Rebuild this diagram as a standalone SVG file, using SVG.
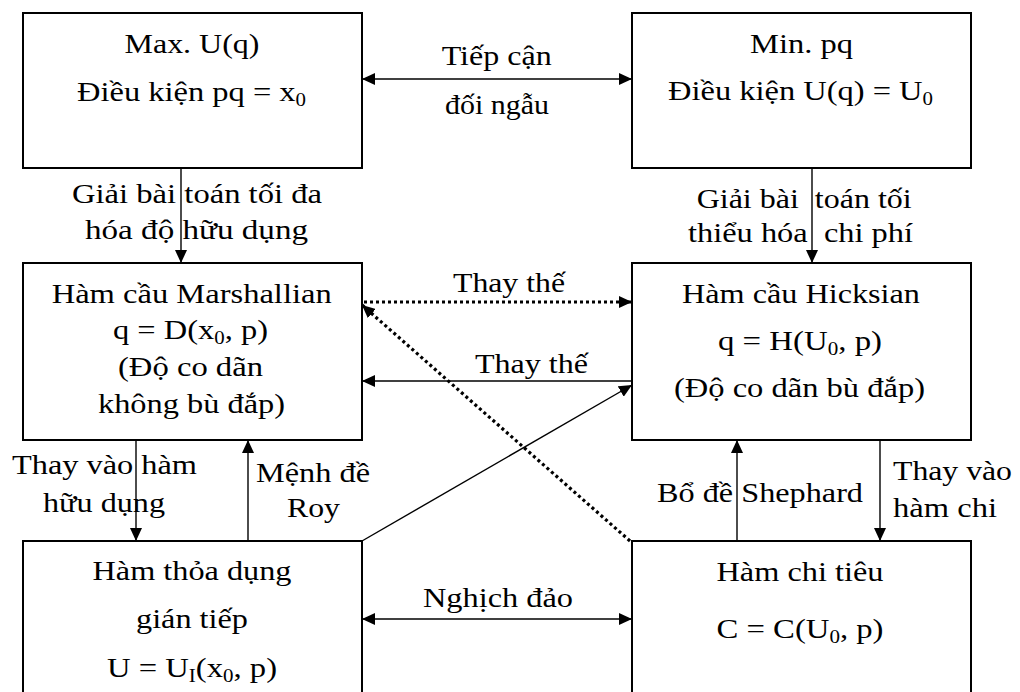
<svg xmlns="http://www.w3.org/2000/svg" width="1020" height="692" viewBox="0 0 1020 692" font-family="'Liberation Serif', 'Times New Roman', serif">
<style>
  text { font-family: "Liberation Serif", "Times New Roman", serif; font-size: 28px; fill: #000; white-space: pre; }
  .c { text-anchor: middle; }
  .box { fill: #fff; stroke: #000; stroke-width: 2; }
  .ln { stroke: #000; stroke-width: 1.4; fill: none; }
  .dot { stroke: #000; stroke-width: 3.2; stroke-dasharray: 3 3; fill: none; }
  .sub { font-size: 18px; }
</style>
<defs>
  <marker id="ah" markerUnits="userSpaceOnUse" markerWidth="13" markerHeight="12" refX="13" refY="6" orient="auto-start-reverse">
    <path d="M0,0 L13,6 L0,12 Z" fill="#000"/>
  </marker>
</defs>
<rect width="1020" height="692" fill="#fff"/>

<g id="connectors">
  <line class="ln" x1="362" y1="79" x2="632" y2="79" marker-start="url(#ah)" marker-end="url(#ah)"/>
  <line class="ln" x1="181" y1="168" x2="181" y2="263" marker-end="url(#ah)"/>
  <line class="ln" x1="812" y1="168" x2="812" y2="263" marker-end="url(#ah)"/>
  <line class="dot" x1="364" y1="302" x2="632" y2="302" marker-end="url(#ah)"/>
  <line class="dot" x1="630" y1="541" x2="362" y2="305" marker-end="url(#ah)"/>
  <line class="ln" x1="632" y1="381" x2="362" y2="381" marker-end="url(#ah)"/>
  <line class="ln" x1="362" y1="541" x2="632" y2="385" marker-end="url(#ah)"/>
  <line class="ln" x1="136" y1="440" x2="136" y2="541" marker-end="url(#ah)"/>
  <line class="ln" x1="248" y1="541" x2="248" y2="440" marker-end="url(#ah)"/>
  <line class="ln" x1="737" y1="541" x2="737" y2="440" marker-end="url(#ah)"/>
  <line class="ln" x1="880" y1="440" x2="880" y2="541" marker-end="url(#ah)"/>
  <line class="ln" x1="362" y1="619" x2="632" y2="619" marker-start="url(#ah)" marker-end="url(#ah)"/>

  <text class="c" x="496.7" y="65" textLength="110" lengthAdjust="spacingAndGlyphs">Tiếp cận</text>
  <text class="c" x="497" y="114" textLength="104" lengthAdjust="spacingAndGlyphs">đối ngẫu</text>
  <text class="c" x="197" y="203" textLength="250" lengthAdjust="spacingAndGlyphs">Giải bài toán tối đa</text>
  <text class="c" x="196.5" y="239" textLength="223" lengthAdjust="spacingAndGlyphs">hóa độ hữu dụng</text>
  <text class="c" x="804.2" y="208" textLength="215" lengthAdjust="spacingAndGlyphs">Giải bài  toán tối</text>
  <text class="c" x="800.5" y="242" textLength="225" lengthAdjust="spacingAndGlyphs">thiểu hóa  chi phí</text>
  <text class="c" x="509" y="292" textLength="112" lengthAdjust="spacingAndGlyphs">Thay thế</text>
  <text class="c" x="531.5" y="373" textLength="113" lengthAdjust="spacingAndGlyphs">Thay thế</text>
  <text class="c" x="104.5" y="474" textLength="185" lengthAdjust="spacingAndGlyphs">Thay vào hàm</text>
  <text class="c" x="104" y="512" textLength="122" lengthAdjust="spacingAndGlyphs">hữu dụng</text>
  <text class="c" x="313" y="482" textLength="114" lengthAdjust="spacingAndGlyphs">Mệnh đề</text>
  <text class="c" x="313.5" y="517" textLength="53" lengthAdjust="spacingAndGlyphs">Roy</text>
  <text class="c" x="760" y="502" textLength="206" lengthAdjust="spacingAndGlyphs">Bổ đề Shephard</text>
  <text x="893" y="480" textLength="119" lengthAdjust="spacingAndGlyphs">Thay vào</text>
  <text x="893" y="517" textLength="104" lengthAdjust="spacingAndGlyphs">hàm chi</text>
  <text class="c" x="498" y="607" textLength="150" lengthAdjust="spacingAndGlyphs">Nghịch đảo</text>
</g>

<g id="max-u">
  <rect class="box" x="23" y="13" width="339" height="155"/>
  <text class="c" x="192" y="53" textLength="135" lengthAdjust="spacingAndGlyphs">Max. U(q)</text>
  <text class="c" x="191.5" y="101" textLength="229" lengthAdjust="spacingAndGlyphs">Điều kiện pq = x<tspan class="sub" dy="5">0</tspan></text>
</g>

<g id="min-pq">
  <rect class="box" x="632" y="13" width="339" height="155"/>
  <text class="c" x="801.5" y="53" textLength="103" lengthAdjust="spacingAndGlyphs">Min. pq</text>
  <text class="c" x="800.5" y="100" textLength="265" lengthAdjust="spacingAndGlyphs">Điều kiện U(q) = U<tspan class="sub" dy="5">0</tspan></text>
</g>

<g id="marshallian">
  <rect class="box" x="23" y="263" width="339" height="177"/>
  <text class="c" x="191.7" y="303" textLength="280" lengthAdjust="spacingAndGlyphs">Hàm cầu Marshallian</text>
  <text class="c" x="190.5" y="339" textLength="155" lengthAdjust="spacingAndGlyphs">q = D(x<tspan class="sub" dy="5">0</tspan><tspan dy="-5">, p)</tspan></text>
  <text class="c" x="190.5" y="376" textLength="145" lengthAdjust="spacingAndGlyphs">(Độ co dãn</text>
  <text class="c" x="191.5" y="413" textLength="187" lengthAdjust="spacingAndGlyphs">không bù đắp)</text>
</g>

<g id="hicksian">
  <rect class="box" x="632" y="263" width="339" height="177"/>
  <text class="c" x="801" y="303" textLength="238" lengthAdjust="spacingAndGlyphs">Hàm cầu Hicksian</text>
  <text class="c" x="800" y="350" textLength="164" lengthAdjust="spacingAndGlyphs">q = H(U<tspan class="sub" dy="5">0</tspan><tspan dy="-5">, p)</tspan></text>
  <text class="c" x="799.5" y="397" textLength="251" lengthAdjust="spacingAndGlyphs">(Độ co dãn bù đắp)</text>
</g>

<g id="indirect-utility">
  <rect class="box" x="23" y="541" width="339" height="170"/>
  <text class="c" x="192" y="580" textLength="199" lengthAdjust="spacingAndGlyphs">Hàm thỏa dụng</text>
  <text class="c" x="192" y="628" textLength="112" lengthAdjust="spacingAndGlyphs">gián tiếp</text>
  <text class="c" x="192" y="677" textLength="170" lengthAdjust="spacingAndGlyphs">U = U<tspan class="sub" dy="5">I</tspan><tspan dy="-5">(x</tspan><tspan class="sub" dy="5">0</tspan><tspan dy="-5">, p)</tspan></text>
</g>

<g id="expenditure">
  <rect class="box" x="632" y="541" width="339" height="170"/>
  <text class="c" x="800" y="581" textLength="167" lengthAdjust="spacingAndGlyphs">Hàm chi tiêu</text>
  <text class="c" x="800" y="638" textLength="167" lengthAdjust="spacingAndGlyphs">C = C(U<tspan class="sub" dy="5">0</tspan><tspan dy="-5">, p)</tspan></text>
</g>
</svg>
